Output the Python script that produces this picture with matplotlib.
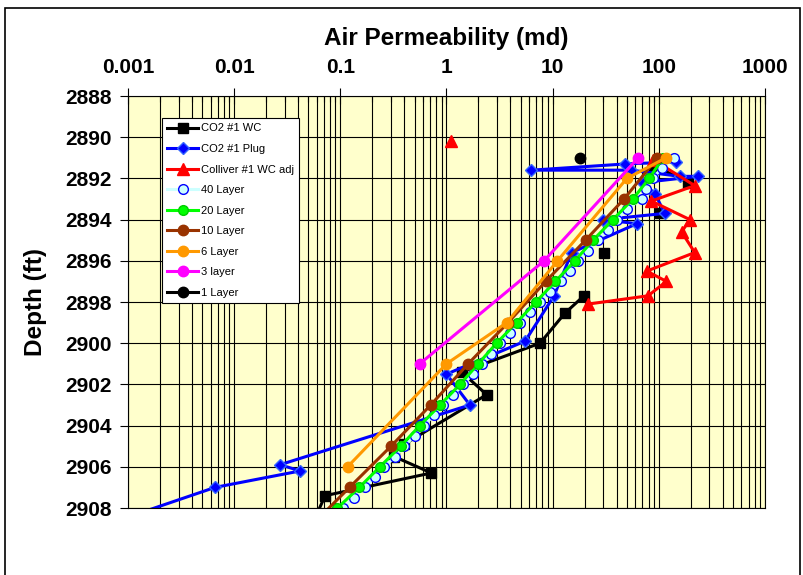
import numpy as np
import matplotlib
matplotlib.use("Agg")
import matplotlib.pyplot as plt
from matplotlib.patches import Rectangle
from matplotlib.ticker import LogLocator, FixedLocator, FixedFormatter, NullFormatter

plt.rcParams["font.family"] = ["Liberation Sans", "DejaVu Sans"]

nan = np.nan

# CO2 #1 whole core (gaps where the line is broken)
wc_perm = [92, 189, nan, 102, nan, 30.3, nan, 19.7, 13.0, 7.6, 1.39, 2.39, 0.40, 0.32, 0.72, 0.072, 0.06]
wc_depth = [2891.4, 2892.2, nan, 2893.7, nan, 2895.6, nan, 2897.7, 2898.55, 2900.0, 2901.4, 2902.5,
            2904.9, 2905.5, 2906.3, 2907.4, 2908.3]

# CO2 #1 plugs
plug_perm = [145, 48, 6.3, 55, 158, 234, 71, 92, 114, 30, 62, 15.1, 10.3, 5.5, 1.0, 1.66,
             0.027, 0.042, 0.0066, 0.0012]
plug_depth = [2891.2, 2891.3, 2891.6, 2891.6, 2891.9, 2891.9, 2892.2, 2892.75, 2893.7, 2894.0,
              2894.2, 2895.6, 2897.7, 2899.9, 2901.5, 2903.0, 2905.9, 2906.2, 2907.0, 2908.3]

# Colliver #1 whole core, adjusted
coll_perm = [1.1, nan, 88.6, 218, 85, 196, 164, 218, 77, 118, 79, 21.6]
coll_depth = [2890.2, nan, 2891.1, 2892.35, 2893.1, 2894.0, 2894.6, 2895.6, 2896.5, 2897.0,
              2897.7, 2898.1]

# layer models
l40_depth = list(np.arange(2891.0, 2908.01, 0.5))
l40_perm = [139, 106, 88, 75, 69, 50, 40, 33, 27, 21.6, 17.4, 14.5, 11.9, 9.4, 7.6, 6.1, 4.9,
            3.95, 3.18, 2.6, 2.14, 1.76, 1.44, 1.16, 0.93, 0.76, 0.61, 0.50, 0.40, 0.33, 0.26,
            0.21, 0.17, 0.134, 0.106]

l20_depth = list(range(2891, 2909))
l20_perm = [110, 81, 57, 37, 24, 16.2, 10.6, 6.95, 4.57, 2.96, 1.99, 1.34, 0.87, 0.56, 0.37,
            0.236, 0.151, 0.094]

l10_depth = [2891, 2893, 2895, 2897, 2899, 2901, 2903, 2905, 2907, 2909]
l10_perm = [97, 47, 20.4, 8.6, 3.8, 1.6, 0.71, 0.30, 0.122, 0.05]

l6_depth = [2891, 2892, 2896, 2899, 2901, 2906]
l6_perm = [117, 50, 11.1, 3.7, 1.0, 0.117]

l3_depth = [2891, 2896, 2901]
l3_perm = [64, 8.3, 0.56]

l1_depth = [2891]
l1_perm = [18]

x_ticks = [0.001, 0.01, 0.1, 1, 10, 100, 1000]
x_tick_labels = ["0.001", "0.01", "0.1", "1", "10", "100", "1000"]
y_ticks = list(range(2888, 2909, 2))


fig = plt.figure(figsize=(8.04, 5.75), dpi=100)
ax = fig.add_axes([128 / 804, 1 - 508 / 575, (765 - 128) / 804, (508 - 96) / 575])
ax.set_facecolor("#FFFFCC")

lw = 2.2
ax.plot(wc_perm, wc_depth, color="black", lw=lw, marker="s", ms=7, mfc="black", mec="black",
        label="CO2 #1 WC")
ax.plot(plug_perm, plug_depth, color="#0000FF", lw=lw, marker="D", ms=6, mfc="#0000FF",
        mec="#3366FF", label="CO2 #1 Plug")
ax.plot(coll_perm, coll_depth, color="#FF0000", lw=lw, marker="^", ms=8, mfc="#FF0000",
        mec="#FF0000", label="Colliver #1 WC adj")
ax.plot(l40_perm, l40_depth, color="#CCFFFF", lw=lw, marker="o", ms=7, mfc="#CCFFFF",
        mec="#0000FF", mew=1.0, label="40 Layer")
ax.plot(l20_perm, l20_depth, color="#00FF00", lw=lw, marker="o", ms=7, mfc="#00FF00",
        mec="#00CC00", label="20 Layer")
ax.plot(l10_perm, l10_depth, color="#993300", lw=lw, marker="o", ms=7.5, mfc="#993300",
        mec="#993300", label="10 Layer")
ax.plot(l6_perm, l6_depth, color="#FF9900", lw=lw, marker="o", ms=7.5, mfc="#FF9900",
        mec="#FF9900", label="6 Layer")
ax.plot(l3_perm, l3_depth, color="#FF00FF", lw=lw, marker="o", ms=7.5, mfc="#FF00FF",
        mec="#FF00FF", label="3 layer")
ax.plot(l1_perm, l1_depth, color="black", lw=lw, marker="o", ms=7.5, mfc="black",
        mec="black", label="1 Layer")

ax.set_xscale("log")
ax.set_xlim(0.001, 1000)
ax.set_ylim(2908, 2888)

ax.xaxis.tick_top()
ax.xaxis.set_label_position("top")
ax.xaxis.set_major_locator(FixedLocator(x_ticks))
ax.xaxis.set_major_formatter(FixedFormatter(x_tick_labels))
ax.xaxis.set_minor_locator(LogLocator(base=10, subs=np.arange(2, 10), numticks=20))
ax.xaxis.set_minor_formatter(NullFormatter())
ax.set_yticks(y_ticks)
ax.set_yticklabels([str(v) for v in y_ticks])

ax.grid(True, which="both", axis="x", color="black", lw=0.8)
ax.grid(True, which="major", axis="y", color="black", lw=0.8)
ax.set_axisbelow(True)

ax.tick_params(axis="x", which="major", direction="inout", length=11.5, width=0.8, pad=8,
               labelsize=15)
ax.tick_params(axis="x", which="minor", direction="in", length=4, width=0.8)
ax.tick_params(axis="y", which="major", direction="out", length=6, width=0.8, pad=6,
               labelsize=15)
for lab in ax.get_xticklabels() + ax.get_yticklabels():
    lab.set_fontweight("bold")

for sp in ax.spines.values():
    sp.set_color("black")
    sp.set_linewidth(0.8)

ax.set_xlabel("Air Permeability (md)", fontsize=17.5, fontweight="bold", labelpad=9)
ax.set_ylabel("Depth (ft)", fontsize=17.5, fontweight="bold", labelpad=13)

leg = ax.legend(loc="upper left", bbox_to_anchor=(0.053, 0.947), fontsize=8, frameon=True,
                fancybox=False, edgecolor="black", framealpha=1, borderaxespad=0,
                handlelength=2.8, labelspacing=0.95, borderpad=0.5, handletextpad=0.2)
leg.get_frame().set_linewidth(0.8)

# outer chart border
fig.patches.append(Rectangle((5 / 804, -0.05), 795 / 804, 1.05 - 8 / 575,
                             transform=fig.transFigure, fill=False, edgecolor="black", lw=1.2))

fig.savefig("out.png", dpi=100)
